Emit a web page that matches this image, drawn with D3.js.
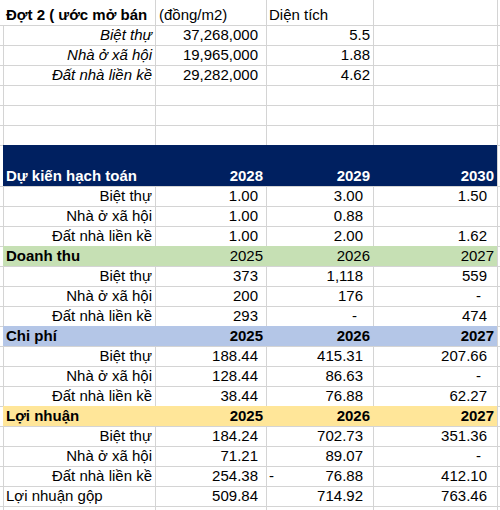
<!DOCTYPE html>
<html><head><meta charset="utf-8">
<script src="https://cdn.jsdelivr.net/npm/d3@7"></script>
<style>html,body{margin:0;padding:0;background:#fff;}svg{display:block;}</style>
</head><body>
<svg id="c" width="500" height="510"></svg>
<script>
// ---- data ----
const introTitle = "Đợt 2 ( ước mở bán";
const introHeaders = ["(đồng/m2)", "Diện tích"];
const categories = ["Biệt thự", "Nhà ở xã hội", "Đất nhà liền kề"];
const unitPrice = [37268000, 19965000, 29282000];
const area = [5.5, 1.88, 4.62];

const planTitle = "Dự kiến hạch toán";
const planYears = [2028, 2029, 2030];
const planValues = [[1.00, 3.00, 1.50], [1.00, 0.88, null], [1.00, 2.00, 1.62]];

const years = [2025, 2026, 2027];
const revenueTitle = "Doanh thu";
const revenue = [[373, 1118, 559], [200, 176, 0], [293, 0, 474]];
const costTitle = "Chi phí";
const cost = [[188.44, 415.31, 207.66], [128.44, 86.63, 0], [38.44, 76.88, 62.27]];
const profitTitle = "Lợi nhuận";
const profit = [[184.24, 702.73, 351.36], [71.21, 89.07, 0], [254.38, -76.88, 412.10]];
const grossTitle = "Lợi nhuận gộp";
const grossProfit = [509.84, 714.92, 763.46];

// ---- layout ----
const svg = d3.select("#c");
const FONT = "'Liberation Sans', Arial, sans-serif";
const colEdge = d3.scaleOrdinal().domain([0, 1, 2, 3, 4]).range([3, 155, 266, 373, 497]);
const colPad = d3.scaleOrdinal().domain([1, 2, 3]).range([8, 10, 10]);
const rowHeights = [25, 20, 20, 20, 20, 20, 20, 41, 20, 20, 20, 20, 20, 20, 20, 20, 20, 20, 20, 20, 20, 20, 20, 20, 30];
const rowTop = [0].concat(Array.from(d3.cumsum(rowHeights)));
const rowY = d3.scaleOrdinal().domain(d3.range(rowHeights.length + 1)).range(rowTop);
const base = i => rowY(i + 1) - 5;

const grid = "#d4d4d4";
svg.append("rect").attr("width", 500).attr("height", 510).attr("fill", "#fff");
// grid
const g = svg.append("g");
rowTop.slice(1).forEach(y => g.append("line").attr("x1", 0).attr("x2", 500).attr("y1", y + 0.5).attr("y2", y + 0.5).attr("stroke", grid));
[0, 1, 2, 3, 4].forEach(c => g.append("line").attr("x1", colEdge(c) + 0.5).attr("x2", colEdge(c) + 0.5).attr("y1", c === 0 ? 25 : 0).attr("y2", 510).attr("stroke", grid));

// bands
const bands = [[7, "#002060"], [11, "#c6e0b4"], [15, "#b4c6e7"], [19, "#ffe699"]];
bands.forEach(([r, col]) => svg.append("rect").attr("x", colEdge(0)).attr("y", rowY(r)).attr("width", colEdge(4) - colEdge(0)).attr("height", rowHeights[r]).attr("fill", col));

const T = svg.append("g").attr("font-family", FONT).attr("font-size", 15).attr("fill", "#000");
function txt(x, y, s, opts = {}) {
  const t = T.append("text").attr("x", x).attr("y", y).text(s).attr("text-anchor", opts.anchor || "start");
  if (opts.bold) t.attr("font-weight", "bold");
  if (opts.italic) t.attr("font-style", "italic");
  if (opts.fill) t.attr("fill", opts.fill);
  return t;
}
const fmt2 = d3.format(",.2f"), fmt0 = d3.format(",.0f");
function acct(c, r, v, f) {
  const right = colEdge(c + 1);
  if (v === null || v === undefined) return;
  if (v === 0) { txt(right - 16, base(r), "-", { anchor: "end" }); return; }
  if (v < 0) txt(colEdge(c) + 3, base(r), "-");
  txt(right - colPad(c), base(r), f(Math.abs(v)), { anchor: "end" });
}

// intro block
txt(6, base(0), introTitle, { bold: true });
txt(colEdge(1) + 4, base(0), introHeaders[0]);
txt(colEdge(2) + 3, base(0), introHeaders[1]);
categories.forEach((c, i) => {
  txt(colEdge(1) - 3, base(1 + i), c, { anchor: "end", italic: true });
  acct(1, 1 + i, unitPrice[i], d3.format(","));
  txt(colEdge(3) - 3, base(1 + i), String(area[i]), { anchor: "end" });
});

// plan header
txt(6, base(7), planTitle, { bold: true, fill: "#fff" });
planYears.forEach((y, j) => txt(colEdge(j + 2) - 3, base(7), String(y), { anchor: "end", bold: true, fill: "#fff" }));
categories.forEach((c, i) => {
  txt(colEdge(1) - 3, base(8 + i), c, { anchor: "end" });
  planValues[i].forEach((v, j) => acct(1 + j, 8 + i, v, fmt2));
});

function section(r0, title, yearsBold, data, f) {
  txt(6, base(r0), title, { bold: true });
  years.forEach((y, j) => txt(colEdge(j + 2) - 3, base(r0), String(y), { anchor: "end", bold: yearsBold }));
  categories.forEach((c, i) => {
    txt(colEdge(1) - 3, base(r0 + 1 + i), c, { anchor: "end" });
    data[i].forEach((v, j) => acct(1 + j, r0 + 1 + i, v, f));
  });
}
section(11, revenueTitle, false, revenue, fmt0);
section(15, costTitle, true, cost, fmt2);
section(19, profitTitle, true, profit, fmt2);
txt(6, base(23), grossTitle);
grossProfit.forEach((v, j) => acct(1 + j, 23, v, fmt2));
</script>
</body></html>
